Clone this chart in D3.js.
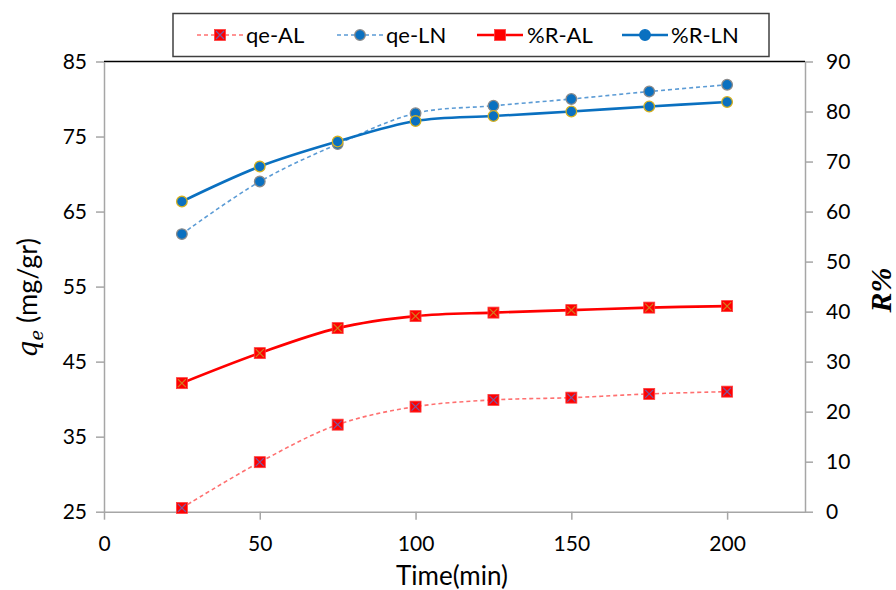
<!DOCTYPE html>
<html><head><meta charset="utf-8">
<script src="https://cdn.jsdelivr.net/npm/d3@7"></script>
<style>body{margin:0;background:#fff}svg{display:block}</style>
</head><body>
<svg id="c" width="896" height="590"></svg>
<script>
const times = [25, 50, 75, 100, 125, 150, 175, 200];
const qeAL = [25.5, 31.6, 36.6, 39.0, 39.9, 40.2, 40.7, 41.0];
const qeLN = [62.0, 69.0, 74.0, 78.1, 79.1, 80.0, 81.0, 81.9];
const rAL  = [25.7, 31.7, 36.7, 39.1, 39.8, 40.3, 40.8, 41.1];
const rLN  = [62.0, 69.0, 74.0, 78.1, 79.1, 80.0, 81.0, 81.9];
const xTicks = [0, 50, 100, 150, 200];
const yLeftTicks = [25, 35, 45, 55, 65, 75, 85];
const yRightTicks = [0, 10, 20, 30, 40, 50, 60, 70, 80, 90];
const legendLabels = ["qe-AL", "qe-LN", "%R-AL", "%R-LN"];

const svg = d3.select("#c");
const L = 104, R = 805, T = 61.5, B = 511.7;
const x = d3.scaleLinear().domain([0, 225]).range([L, R]);
const yL = d3.scaleLinear().domain([25, 85]).range([B, T]);
const yR = d3.scaleLinear().domain([0, 90]).range([B, T]);
const font = "Lato, 'Open Sans', sans-serif";
const axisColor = "#a6a6a6";

svg.append("line").attr("x1", L).attr("x2", R).attr("y1", T).attr("y2", T)
  .attr("stroke", "#000").attr("stroke-width", 1.5);

function styleAxis(g) {
  g.select(".domain").attr("stroke", axisColor).attr("stroke-width", 1.5);
  g.selectAll(".tick line").attr("stroke", axisColor).attr("stroke-width", 1.5);
  g.selectAll(".tick text").attr("fill", "#000").style("font-family", font).style("font-size", "21px");
}
const gx = svg.append("g").attr("transform", `translate(0,${B})`)
  .call(d3.axisBottom(x).tickValues(xTicks).tickSize(8).tickSizeOuter(0).tickPadding(16));
styleAxis(gx);
const gl = svg.append("g").attr("transform", `translate(${L},0)`)
  .call(d3.axisLeft(yL).tickValues(yLeftTicks).tickSize(8).tickSizeOuter(0).tickPadding(9));
styleAxis(gl);
const gr = svg.append("g").attr("transform", `translate(${R},0)`)
  .call(d3.axisRight(yR).tickValues(yRightTicks).tickSize(8).tickSizeOuter(0).tickPadding(13));
styleAxis(gr);

const curve = d3.curveCatmullRom.alpha(0.5);
function drawLine(vals, y, color, width, dash) {
  svg.append("path").datum(vals)
    .attr("d", d3.line().x((d, i) => x(times[i])).y(d => y(d)).curve(curve))
    .attr("fill", "none").attr("stroke", color).attr("stroke-width", width)
    .attr("stroke-dasharray", dash || null);
}
drawLine(qeAL, yL, "#ff7070", 1.6, "4,3");
drawLine(qeLN, yL, "#5b9bd5", 1.6, "4,3");
drawLine(rAL, yR, "#ff0000", 2.6);
drawLine(rLN, yR, "#0a70c0", 2.6);

function square(g, cx, cy, xcol) {
  g.append("rect").attr("x", cx - 5.5).attr("y", cy - 5.5).attr("width", 11).attr("height", 11)
    .attr("fill", "#ff0000").attr("stroke", "#ff4040").attr("stroke-width", 0.8);
  g.append("path").attr("d", `M${cx-4},${cy-4}L${cx+4},${cy+4}M${cx+4},${cy-4}L${cx-4},${cy+4}`)
    .attr("stroke", xcol).attr("stroke-width", 1.2);
}
function circle(g, cx, cy, ring) {
  g.append("circle").attr("cx", cx).attr("cy", cy).attr("r", 5.3)
    .attr("fill", "#0a70c0").attr("stroke", ring).attr("stroke-width", 1.3);
}
const mk = svg.append("g");
qeAL.forEach((v, i) => square(mk, x(times[i]), yL(v), "#7a5aa0"));
rAL.forEach((v, i) => square(mk, x(times[i]), yR(v), "#d08020"));
qeLN.forEach((v, i) => circle(mk, x(times[i]), yL(v), "#8a8a8a"));
rLN.forEach((v, i) => circle(mk, x(times[i]), yR(v), "#d4b020"));

svg.append("text").attr("x", 452).attr("y", 585).attr("text-anchor", "middle")
  .style("font-family", font).style("font-size", "26px").text("Time(min)");

const yt = svg.append("text").attr("transform", "translate(37,298) rotate(-90)")
  .attr("text-anchor", "middle").style("font-size", "27px");
yt.append("tspan").style("font-family", "'DejaVu Serif', serif").style("font-style", "italic").text("q");
yt.append("tspan").attr("dy", 6).style("font-family", "'DejaVu Serif', serif").style("font-style", "italic").style("font-size", "18px").text("e");
yt.append("tspan").attr("dy", -6).style("font-family", font).text(" (mg/gr)");

svg.append("text").attr("transform", "translate(891,290) rotate(-90)")
  .attr("text-anchor", "middle")
  .style("font-family", "'Liberation Serif', serif").style("font-style", "italic").style("font-weight", "bold")
  .style("font-size", "30px").text("R%");

const lg = svg.append("g");
lg.append("rect").attr("x", 173).attr("y", 13.5).attr("width", 596).attr("height", 43)
  .attr("fill", "#fff").attr("stroke", "#404040").attr("stroke-width", 1.5);
const items = [
  {sx: 197, tx: 246, type: "sq", col: "#ff7070", w: 1.6, dash: "4,3", xc: "#7a5aa0"},
  {sx: 337, tx: 386, type: "ci", col: "#5b9bd5", w: 1.6, dash: "4,3", ring: "#8a8a8a"},
  {sx: 477, tx: 527, type: "sq", col: "#ff0000", w: 2.6, dash: null, xc: "#ff0000"},
  {sx: 622, tx: 671, type: "ci", col: "#0a70c0", w: 2.6, dash: null, ring: "#0a70c0"}
];
items.forEach((it, i) => {
  const ly = 35;
  lg.append("line").attr("x1", it.sx).attr("x2", it.sx + 46).attr("y1", ly).attr("y2", ly)
    .attr("stroke", it.col).attr("stroke-width", it.w).attr("stroke-dasharray", it.dash);
  if (it.type === "sq") square(lg, it.sx + 23, ly, it.xc);
  else circle(lg, it.sx + 23, ly, it.ring);
  lg.append("text").attr("x", it.tx).attr("y", ly + 8).style("font-family", font)
    .style("font-size", "22px").text(legendLabels[i]);
});
</script>
</body></html>
